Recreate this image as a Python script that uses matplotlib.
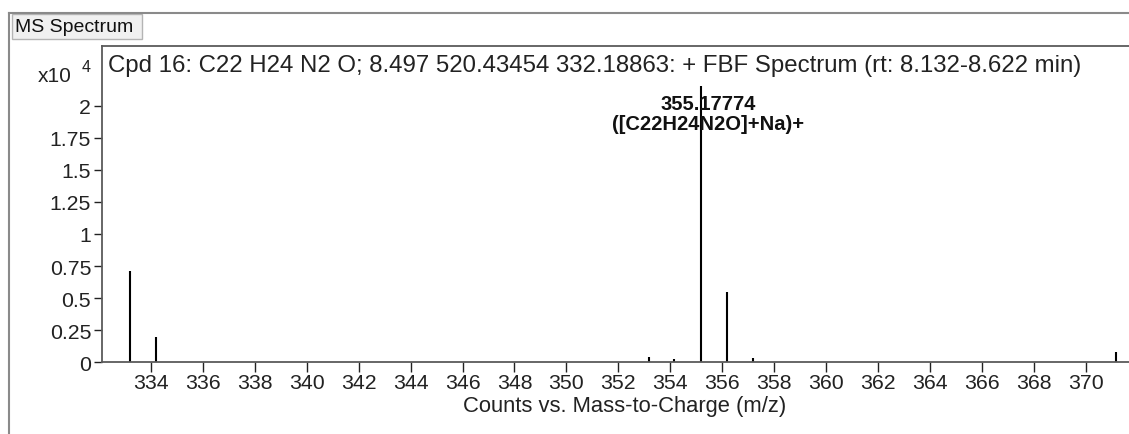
import matplotlib
matplotlib.use("Agg")
import matplotlib.pyplot as plt
from matplotlib.patches import Rectangle
from matplotlib.lines import Line2D

plt.rcParams['font.family'] = ['Liberation Sans', 'DejaVu Sans']

# peak list (m/z, counts in units of 1e4)
mz = [333.19, 334.19, 353.17, 354.13, 355.17774, 356.18, 357.19, 371.18]
counts = [0.71, 0.20, 0.04, 0.025, 2.156, 0.545, 0.035, 0.078]

x_ticks = list(range(334, 372, 2))
y_ticks = [0, 0.25, 0.5, 0.75, 1, 1.25, 1.5, 1.75, 2]
y_labels = ["0", "0.25", "0.5", "0.75", "1", "1.25", "1.5", "1.75", "2"]

title = "Cpd 16: C22 H24 N2 O; 8.497 520.43454 332.18863: + FBF Spectrum (rt: 8.132-8.622 min)"
peak_label = "355.17774\n([C22H24N2O]+Na)+"

W, H = 1129, 435
fig = plt.figure(figsize=(W / 100, H / 100), dpi=100)
fig.patch.set_facecolor("white")

# outer panel frame
frame_col = "#8a8a8a"
fig.add_artist(Line2D([9 / W, 9 / W], [0, 1 - 14 / H], color=frame_col, lw=1.5, transform=fig.transFigure))
fig.add_artist(Line2D([9 / W, 1], [1 - 14 / H, 1 - 14 / H], color=frame_col, lw=1.5, transform=fig.transFigure))
fig.add_artist(Rectangle((12 / W, 1 - 40 / H), 130 / W, 25 / H, transform=fig.transFigure,
                         facecolor="#f0f0f0", edgecolor="#b4b4b4", lw=1))
fig.text(15 / W, 1 - 27.5 / H, "MS Spectrum", fontsize=14, va="center", ha="left", color="#111111")

ax = fig.add_axes([102.3 / W, 1 - 363.3 / H, 1 - 102.3 / W + 0.002, (363.3 - 47) / H])
ax.vlines(mz, 0, counts, color="black", lw=1.5)

ax.set_xlim(334 - (151 - 102.3) / 25.97, 334 + (W - 151) / 25.97 + 0.1)
ax.set_ylim(0, (363.3 - 47) / 128.3)
ax.set_xticks(x_ticks)
ax.set_yticks(y_ticks)
ax.set_yticklabels(y_labels)
ax.tick_params(axis="both", labelsize=15.3, colors="#222222", length=6, width=1, pad=2)
ax.tick_params(axis="x", length=7, pad=1)
for s in ax.spines.values():
    s.set_color("#5a5a5a")
    s.set_linewidth(1.3)

ax.text(108 / W, 1 - 66 / H, title, transform=fig.transFigure, fontsize=17.3, va="center",
        ha="left", color="#222222")
ax.annotate(peak_label, xy=(mz[4], counts[4]), xytext=(5, -20), textcoords="offset points",
            ha="center", va="center", fontsize=14.5, fontweight="bold", linespacing=1.1,
            color="#111111")

fig.text(625 / W, 1 - 407 / H, "Counts vs. Mass-to-Charge (m/z)", fontsize=15.8, ha="center",
         va="center", color="#222222")
fig.text(38 / W, 1 - 82 / H, "x10", fontsize=15, ha="left", va="baseline", color="#222222")
fig.text(82 / W, 1 - 72 / H, "4", fontsize=11.5, ha="left", va="baseline", color="#222222")

fig.savefig("out.png", dpi=100)
